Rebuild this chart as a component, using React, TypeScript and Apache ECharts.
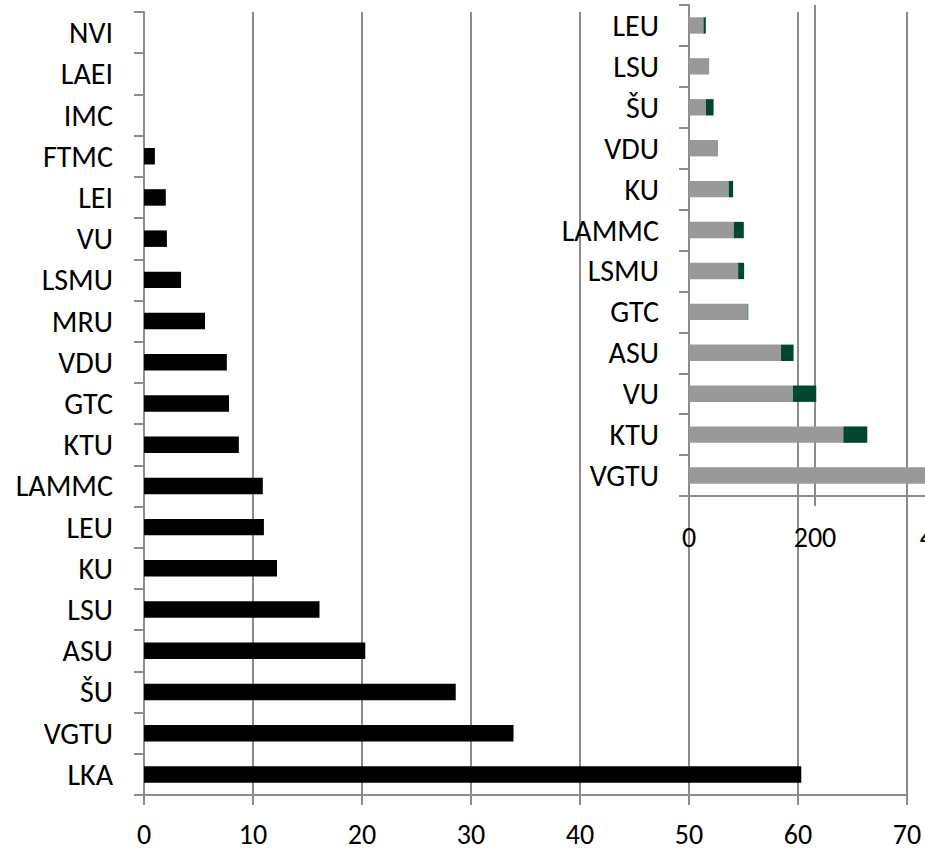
import React, { useEffect, useRef } from "react";
import * as echarts from "echarts";

// Main chart (bottom to top)
const mainCategories = ["LKA", "VGTU", "ŠU", "ASU", "LSU", "KU", "LEU", "LAMMC", "KTU", "GTC", "VDU", "MRU", "LSMU", "VU", "LEI", "FTMC", "IMC", "LAEI", "NVI"];
const mainValues = [60.3, 33.9, 28.6, 20.3, 16.1, 12.2, 11.0, 10.9, 8.7, 7.8, 7.6, 5.6, 3.4, 2.1, 2.0, 1.0, 0, 0, 0];
const mainTicks = { min: 0, max: 70, interval: 10 };

// Inset chart (bottom to top)
const insetCategories = ["VGTU", "KTU", "VU", "ASU", "GTC", "LSMU", "LAMMC", "KU", "VDU", "ŠU", "LSU", "LEU"];
const insetGray = [420, 245, 165, 146, 93, 78, 71, 63, 46, 27, 32, 23];
const insetGreen = [0, 38, 37, 20, 1, 9.5, 16, 7, 0, 12, 0, 3.7];
const insetTicks = { min: 0, max: 400, interval: 200 };

const FONT = "Carlito, Calibri, Lato, sans-serif";
const FS = 30;
const FS_X = 28;
const GRID_COLOR = "#8c8c8c";

export default function App() {
  const ref = useRef<HTMLDivElement>(null);
  useEffect(() => {
    if (!ref.current) return;
    const chart = echarts.init(ref.current, null, { renderer: "svg" });
    const lineStyle = { color: GRID_COLOR, width: 2 };
    const labelStyle = { color: "#000", fontSize: FS, fontFamily: FONT };
    const xLabelStyle = { color: "#000", fontSize: FS_X, fontFamily: FONT, lineHeight: 26 };
    chart.setOption({
      animation: false,
      backgroundColor: "#fff",
      grid: [
        { left: 144, right: 18, top: 12, bottom: 56, containLabel: false, outerBoundsMode: "none" },
        { left: 689, top: 5, bottom: 355, width: 252, containLabel: false, outerBoundsMode: "none" },
      ],
      xAxis: [
        {
          type: "value",
          gridIndex: 0,
          ...mainTicks,
          axisLine: { show: true, lineStyle },
          axisTick: { show: true, length: 10, lineStyle },
          splitLine: { show: true, lineStyle },
          axisLabel: { ...xLabelStyle, margin: 26, showMinLabel: true, showMaxLabel: true },
        },
        {
          type: "value",
          gridIndex: 1,
          ...insetTicks,
          axisLine: { show: true, lineStyle },
          axisTick: { show: true, length: 10, lineStyle },
          splitLine: { show: true, lineStyle },
          axisLabel: { ...xLabelStyle, margin: 28, showMinLabel: true, showMaxLabel: true },
        },
      ],
      yAxis: [
        {
          type: "category",
          gridIndex: 0,
          data: mainCategories,
          axisLine: { show: true, lineStyle },
          axisTick: { show: true, length: 10, alignWithLabel: false, lineStyle },
          splitLine: { show: false },
          axisLabel: { ...labelStyle, margin: 31, interval: 0 },
        },
        {
          type: "category",
          gridIndex: 1,
          data: insetCategories,
          axisLine: { show: true, lineStyle },
          axisTick: { show: true, length: 10, alignWithLabel: false, lineStyle },
          splitLine: { show: false },
          axisLabel: { ...labelStyle, margin: 30, interval: 0 },
        },
      ],
      series: [
        {
          type: "bar",
          xAxisIndex: 0,
          yAxisIndex: 0,
          data: mainValues,
          barCategoryGap: "60%",
          itemStyle: { color: "#000" },
        },
        {
          type: "bar",
          xAxisIndex: 1,
          yAxisIndex: 1,
          stack: "inset",
          data: insetGray,
          barCategoryGap: "60%",
          itemStyle: { color: "#999999" },
        },
        {
          type: "bar",
          xAxisIndex: 1,
          yAxisIndex: 1,
          stack: "inset",
          data: insetGreen,
          barCategoryGap: "60%",
          itemStyle: { color: "#00472f" },
        },
      ],
    });
    return () => chart.dispose();
  }, []);
  return (
    <div
      ref={ref}
      style={{ position: "absolute", left: 0, top: 0, width: 925, height: 851 }}
    />
  );
}
